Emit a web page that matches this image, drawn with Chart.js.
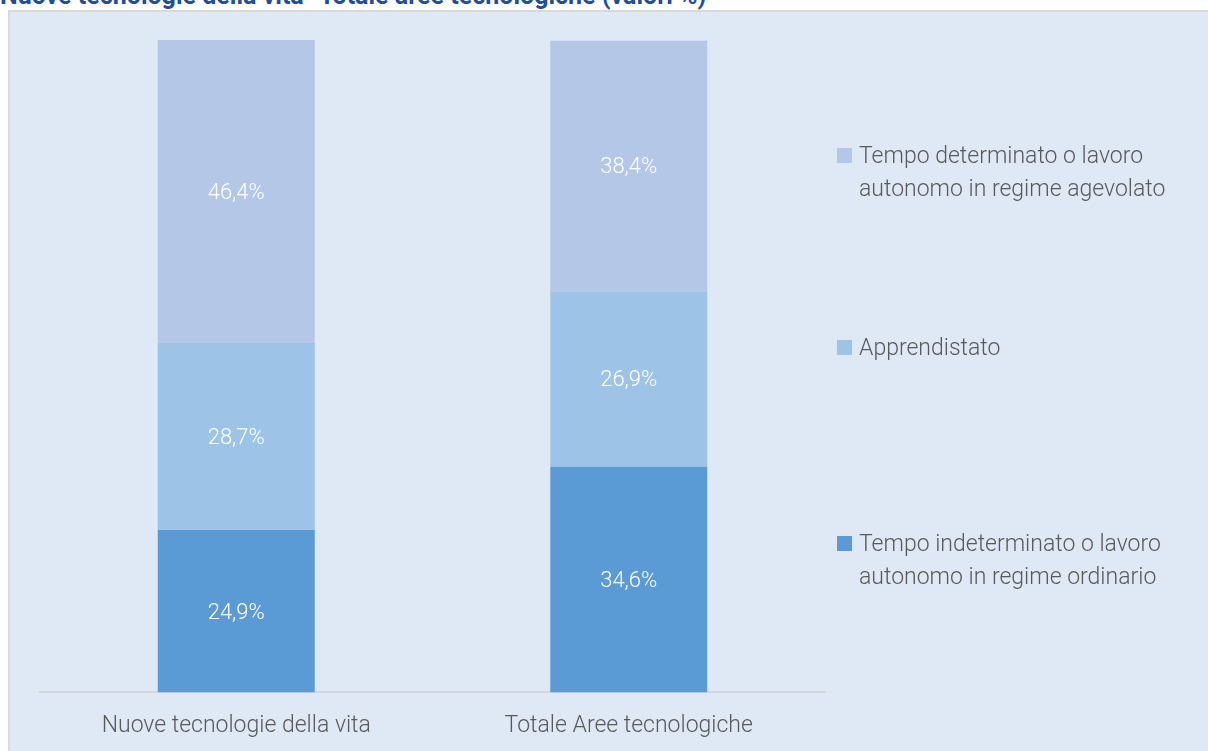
<!DOCTYPE html>
<html>
<head>
<meta charset="utf-8">
<script src="https://cdn.jsdelivr.net/npm/chart.js@4"></script>
<style>
    body { margin: 0; background: #ffffff; width: 1208px; height: 751px; overflow: hidden; position: relative; font-family: Roboto, sans-serif; }
    #title { position: absolute; left: 0; top: -17px; font: bold 25px/26px Roboto, sans-serif; color: #1f4e9c; white-space: nowrap; }
    #panel { position: absolute; left: 8px; top: 10px; width: 1198px; height: 739px; background: #dfe9f5; border: 2px solid #d9d9d9; border-right: none; border-bottom: none; overflow: hidden; }
    #panel canvas { position: absolute; left: 0; top: 0; }
    .leg { position: absolute; left: 827px; font: 300 23px/33px Roboto, sans-serif; color: #595959; padding-left: 22px; }
    .leg span { position: absolute; left: 0; top: 9px; width: 15px; height: 15px; }
</style>
</head>
<body>
<div id="title">Nuove tecnologie della vita- Totale aree tecnologiche (valori %)</div>
<div id="panel">
    <canvas id="StackChart" width="1198" height="760"></canvas>
</div>
<script>
var Categories = ['Nuove tecnologie della vita', 'Totale Aree tecnologiche'];
var Ordinario = [24.9, 34.6];
var Apprendistato = [28.7, 26.9];
var Agevolato = [46.4, 38.4];
var SeriesNames = [
    ['Tempo indeterminato o lavoro', 'autonomo in regime ordinario'],
    ['Apprendistato'],
    ['Tempo determinato o lavoro', 'autonomo in regime agevolato']
];
const colors = ['#5b9bd5', '#9dc3e6', '#b4c7e7'];

// white value labels in the middle of every segment
const valueLabels = {
    id: 'valueLabels',
    afterDatasetsDraw(chart) {
        var ctx = chart.ctx;
        ctx.save();
        ctx.fillStyle = '#ffffff';
        ctx.font = '300 22px Roboto, sans-serif';
        ctx.textAlign = 'center';
        ctx.textBaseline = 'middle';
        chart.data.datasets.forEach(function (ds, i) {
            chart.getDatasetMeta(i).data.forEach(function (bar, j) {
                var y = (bar.y + bar.base) / 2;
                ctx.fillText(ds.data[j].toFixed(1).replace('.', ',') + '%', bar.x, y + 2);
            });
        });
        ctx.restore();
    }
};

new Chart(document.getElementById('StackChart'), {
    type: 'bar',
    data: {
        labels: Categories,
        datasets: [
            { label: SeriesNames[0].join(' '), data: Ordinario, backgroundColor: colors[0] },
            { label: SeriesNames[1].join(' '), data: Apprendistato, backgroundColor: colors[1] },
            { label: SeriesNames[2].join(' '), data: Agevolato, backgroundColor: colors[2] }
        ]
    },
    options: {
        responsive: false,
        animation: false,
        categoryPercentage: 1,
        barPercentage: 0.4,
        layout: { padding: { left: 30, right: 383, top: 28, bottom: 20 } },
        plugins: {
            legend: { display: false },
            tooltip: { enabled: false }
        },
        scales: {
            x: {
                stacked: true,
                grid: { display: false },
                border: { color: '#d4d8dd', width: 2 },
                ticks: { color: '#595959', font: { family: 'Roboto', size: 23, weight: 300 }, padding: 12 }
            },
            y: {
                stacked: true,
                display: false,
                min: 0,
                max: 100
            }
        }
    },
    plugins: [valueLabels]
});

// legend on the right, top series first
var legTops = [515, 319, 127];
var panel = document.getElementById('panel');
for (var i = 2; i >= 0; i--) {
    var d = document.createElement('div');
    d.className = 'leg';
    d.style.top = legTops[i] + 'px';
    d.innerHTML = '<span style="background:' + colors[i] + '"></span>' + SeriesNames[i].join('<br>');
    panel.appendChild(d);
}
</script>
</body>
</html>
